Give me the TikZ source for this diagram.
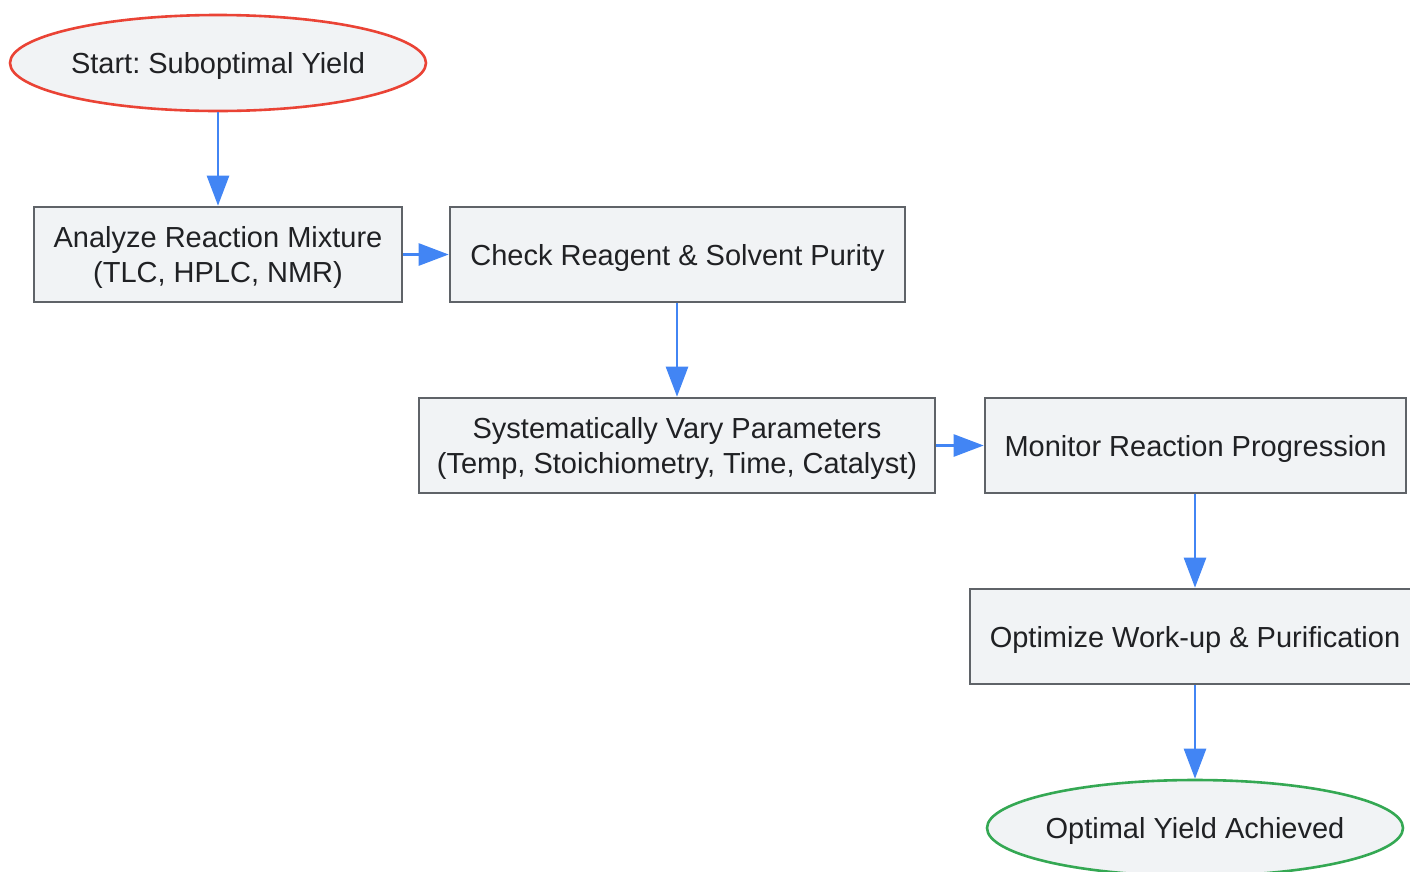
\documentclass[tikz,border=0pt]{standalone}
\usepackage{fontspec}
\setmainfont{Liberation Sans}
\usetikzlibrary{shapes.geometric,arrows.meta}
\definecolor{nodefill}{HTML}{F1F3F5}
\definecolor{boxline}{HTML}{5F6368}
\definecolor{startline}{HTML}{EA4335}
\definecolor{endline}{HTML}{34A853}
\definecolor{arrowblue}{HTML}{4285F4}
\definecolor{textcol}{HTML}{202124}
\newcommand{\dn}[1]{\raisebox{-3pt}[\height][\depth]{#1}}
\tikzset{
  lbl/.style={font=\fontsize{29}{35}\selectfont\frenchspacing, text=textcol, align=center, inner sep=0pt},
  procbox/.style={lbl, rectangle, draw=boxline, fill=nodefill, line width=2.6pt, minimum height=95pt},
  termnode/.style={lbl, ellipse, fill=nodefill, line width=2.6pt, minimum width=416pt, minimum height=96pt, inner xsep=-10pt},
  flow/.style={draw=arrowblue, line width=2.6pt, -{Triangle[length=30pt,width=22pt]}}
}
\begin{document}
\begin{tikzpicture}[x=1pt,y=-1pt]
\useasboundingbox (0,0) rectangle (1410,871);
\clip (0,0) rectangle (1410,871);
\node[termnode, draw=startline] (start) at (218,63) {\dn{Start: Suboptimal Yield}};
\node[procbox, minimum width=368pt] (analyze) at (218,254.5) {\dn{\parbox{360pt}{\centering Analyze Reaction Mixture\\(TLC, HPLC, NMR)}}};
\node[procbox, minimum width=455pt] (check) at (677.5,254.5) {\dn{Check Reagent \& Solvent Purity}};
\node[procbox, minimum width=516pt] (vary) at (677,445.5) {\dn{\parbox{510pt}{\centering Systematically Vary Parameters\\(Temp, Stoichiometry, Time, Catalyst)}}};
\node[procbox, minimum width=421pt] (monitor) at (1195.5,445.5) {\dn{Monitor Reaction Progression}};
\node[procbox, minimum width=450pt] (workup) at (1195,636.5) {\dn{Optimize Work-up \& Purification}};
\node[termnode, draw=endline] (done) at (1195,828) {\dn{Optimal Yield Achieved}};
\draw[flow] (start) -- (analyze);
\draw[flow] (analyze) -- (check);
\draw[flow] (check.south -| vary.north) -- (vary.north);
\draw[flow] (vary) -- (monitor);
\draw[flow] (monitor.south -| workup.north) -- (workup.north);
\draw[flow] (workup) -- (done);
\end{tikzpicture}
\end{document}
